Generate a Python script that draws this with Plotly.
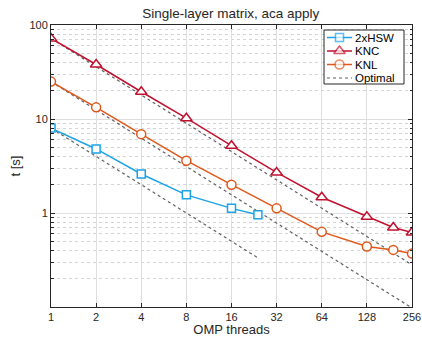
import plotly.graph_objects as go

threads = [1, 2, 4, 8, 16, 32, 64, 128, 192, 256]
hsw_threads = [1, 2, 4, 8, 16, 24]
hsw_t = [8.0, 4.8, 2.6, 1.56, 1.12, 0.96]
knc_t = [72, 38, 19.5, 10.2, 5.2, 2.7, 1.47, 0.91, 0.70, 0.62]
knl_t = [25, 13.3, 6.9, 3.6, 2.0, 1.12, 0.63, 0.44, 0.405, 0.37]
x_ticks = [1, 2, 4, 8, 16, 32, 64, 128, 256]
y_ticks = [1, 10, 100]
y_minor = [m * 10 ** e for e in (-1, 0, 1) for m in range(2, 10)]
legend_names = ["2xHSW", "KNC", "KNL", "Optimal"]

C_HSW = "#1ca3e6"
C_KNC = "#c2112e"
C_KNL = "#e0571a"
C_OPT = "#606060"
FONT = "Liberation Sans, Arial, sans-serif"
TXT = "#262626"

W, H = 422, 337
ML, MR, MT, MB = 51, 10, 25, 30

fig = go.Figure()

STYLES = [
    dict(color=C_HSW, symbol="square", size=8),
    dict(color=C_KNC, symbol="triangle-up", size=10),
    dict(color=C_KNL, symbol="circle", size=9),
]

def series(x, y, name, st):
    fig.add_trace(go.Scatter(
        x=x, y=y, name=name, mode="lines+markers", showlegend=False,
        line=dict(color=st["color"], width=1.5),
        marker=dict(symbol=st["symbol"], size=st["size"], color="white",
                    line=dict(color=st["color"], width=1.5)),
    ))

opt_sets = [
    ([hsw_threads[0], hsw_threads[-1]], hsw_t[0]),
    ([threads[0], threads[-1]], knc_t[0]),
    ([threads[0], threads[-1]], knl_t[0]),
]
for xs, t0 in opt_sets:
    fig.add_trace(go.Scatter(
        x=xs, y=[t0 / xs[0], t0 / xs[1]], mode="lines", name="Optimal",
        line=dict(color=C_OPT, width=1.2, dash="dot"), showlegend=False,
    ))

series(hsw_threads, hsw_t, legend_names[0], STYLES[0])
series(threads, knc_t, legend_names[1], STYLES[1])
series(threads, knl_t, legend_names[2], STYLES[2])

# ---- compact legend drawn on a hidden overlay axis in pixel units ----
bx0, bx1, by0, by1 = 324, 404, 30, 84
rows = [37.5, 51, 64.5, 78]
lx0, lx1, tx = 327, 352, 354
fig.add_trace(go.Scatter(
    x=[bx0, bx1, bx1, bx0, bx0], y=[by0, by0, by1, by1, by0],
    xaxis="x2", yaxis="y2", mode="lines", fill="toself", fillcolor="white",
    line=dict(color="#262626", width=1), showlegend=False, hoverinfo="skip",
))
for i, name in enumerate(legend_names):
    if i < 3:
        st = STYLES[i]
        fig.add_trace(go.Scatter(
            x=[lx0, (lx0 + lx1) / 2, lx1], y=[rows[i]] * 3,
            xaxis="x2", yaxis="y2", mode="lines+markers", showlegend=False,
            hoverinfo="skip", cliponaxis=False,
            line=dict(color=st["color"], width=1.5),
            marker=dict(symbol=st["symbol"], size=[0, st["size"], 0], color="white",
                        line=dict(color=st["color"], width=1.5)),
        ))
    else:
        fig.add_trace(go.Scatter(
            x=[lx0, lx1], y=[rows[i]] * 2, xaxis="x2", yaxis="y2",
            mode="lines", showlegend=False, hoverinfo="skip",
            line=dict(color=C_OPT, width=1.2, dash="dot"),
        ))
    fig.add_annotation(
        x=tx, y=rows[i], xref="x2", yref="y2", text=name, showarrow=False,
        xanchor="left", yanchor="middle", borderpad=0,
        font=dict(family=FONT, size=11.5, color="#000000"),
    )

grid = "#dedede"
axis_common = dict(
    showline=True, linecolor="#262626", linewidth=1, mirror="allticks",
    ticks="inside", ticklen=4, tickcolor="#262626",
    showgrid=True, gridcolor=grid, gridwidth=1, zeroline=False,
    tickfont=dict(family=FONT, size=11, color=TXT), automargin=False,
)

xaxis = dict(
    type="log", range=[0, 2.40824], tickvals=x_ticks,
    ticktext=[str(v) for v in x_ticks],
    title=dict(text="OMP threads", font=dict(family=FONT, size=13, color=TXT), standoff=0),
    **axis_common,
)
yaxis = dict(
    type="log", range=[-1, 2], tickvals=y_ticks,
    ticktext=[str(v) for v in y_ticks],
    title=dict(text="t [s]", font=dict(family=FONT, size=13, color=TXT), standoff=5),
    minor=dict(tickvals=y_minor, ticks="inside", ticklen=2.5, tickcolor="#262626",
               showgrid=True, gridcolor="#d4d4d4", griddash="dot", gridwidth=1),
    **axis_common,
)

fig.update_layout(
    width=W, height=H,
    margin=dict(l=ML, r=MR, t=MT, b=MB),
    paper_bgcolor="white", plot_bgcolor="white",
    xaxis=xaxis, yaxis=yaxis,
    xaxis2=dict(overlaying="x", anchor="y2", range=[ML, W - MR], visible=False,
                showgrid=False, zeroline=False, fixedrange=True),
    yaxis2=dict(overlaying="y", anchor="x2", range=[H - MB, MT], visible=False,
                showgrid=False, zeroline=False, fixedrange=True),
    title=dict(text="Single-layer matrix, aca apply", x=0.547, xanchor="center",
               y=0.96, yanchor="middle",
               font=dict(family=FONT, size=13.5, color=TXT)),
    showlegend=False,
)

fig.write_html("out.html", config={"displayModeBar": False},
               post_script="document.body.style.margin='0';")
